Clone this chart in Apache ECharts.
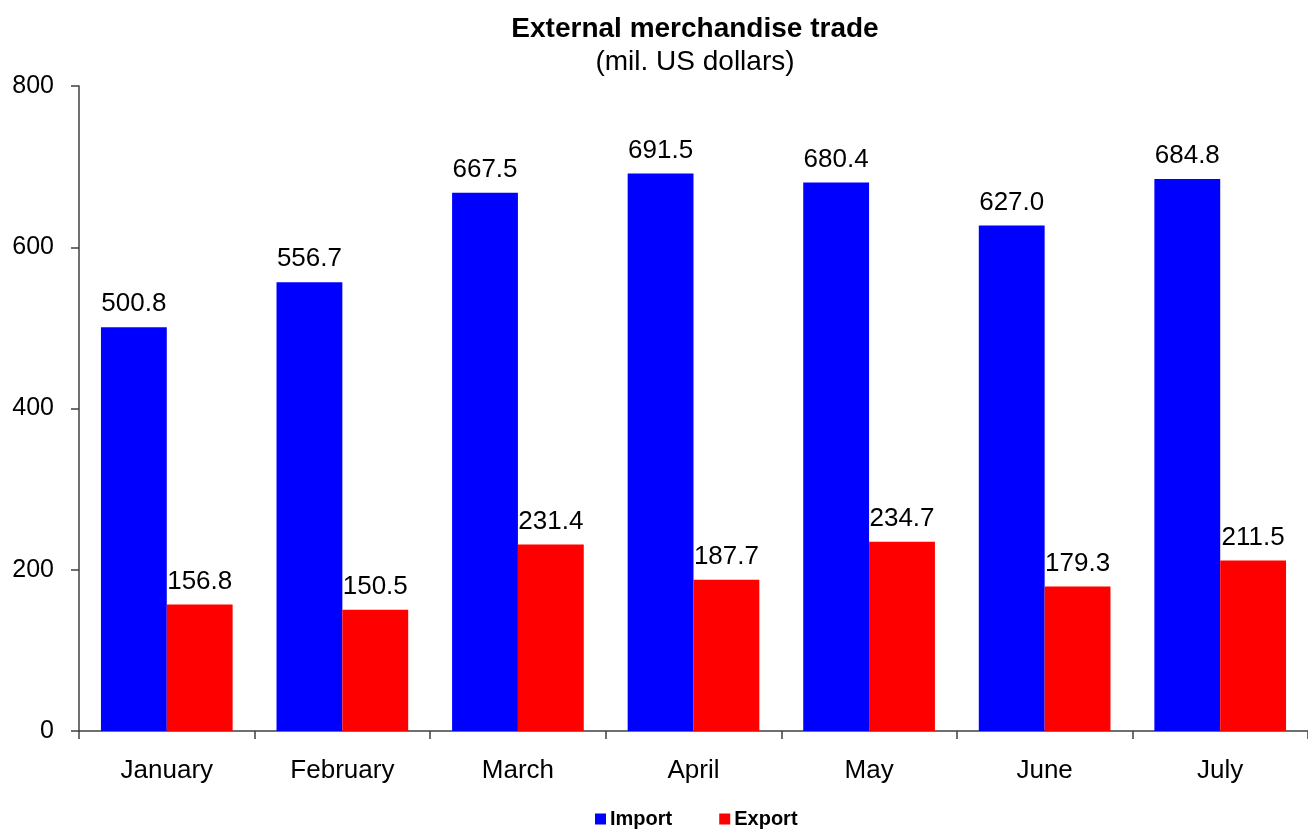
<!DOCTYPE html>
<html>
<head>
<meta charset="utf-8">
<script src="https://cdn.jsdelivr.net/npm/echarts@6/dist/echarts.min.js"></script>
<style>
  html, body { margin: 0; padding: 0; background: #fff; }
  #chart { width: 1308px; height: 829px; }
</style>
</head>
<body>
<div id="chart"></div>
<script>
// chart data
const months = ["January", "February", "March", "April", "May", "June", "July"];
const importValues = [500.8, 556.7, 667.5, 691.5, 680.4, 627.0, 684.8];
const exportValues = [156.8, 150.5, 231.4, 187.7, 234.7, 179.3, 211.5];

const font = "Liberation Sans, Arial, sans-serif";

const chart = echarts.init(document.getElementById("chart"));

const labelStyle = {
    show: true,
    position: "top",
    distance: 10,
    color: "#000",
    fontFamily: font,
    fontSize: 26,
    formatter: (p) => p.value.toFixed(1),
};

chart.setOption({
    animation: false,
    textStyle: { fontFamily: font, color: "#000" },
    title: {
        text: "External merchandise trade",
        subtext: "(mil. US dollars)",
        left: 690,
        textAlign: "center",
        top: 10,
        itemGap: 5,
        textStyle: { fontFamily: font, fontSize: 28, fontWeight: "bold", color: "#000" },
        subtextStyle: { fontFamily: font, fontSize: 28, color: "#000" },
    },
    legend: {
        data: ["Import", "Export"],
        left: 595,
        bottom: 0,
        padding: 0,
        itemWidth: 11,
        itemHeight: 11,
        itemGap: 47,
        icon: "rect",
        textStyle: { fontFamily: font, fontSize: 20, fontWeight: "bold", color: "#000", padding: [0, 0, 0, -1] },
    },
    grid: {
        left: 79,
        right: -1,
        top: 86,
        bottom: 98,
    },
    xAxis: {
        type: "category",
        data: months,
        axisLine: { lineStyle: { color: "#404040", width: 1.5 } },
        axisTick: { show: true, length: 8, lineStyle: { color: "#404040", width: 1.5 } },
        axisLabel: { fontSize: 26, color: "#000", margin: 27 },
    },
    yAxis: {
        type: "value",
        min: 0,
        max: 800,
        interval: 200,
        splitLine: { show: false },
        axisLine: { show: true, lineStyle: { color: "#404040", width: 1.5 } },
        axisTick: { show: true, length: 8, lineStyle: { color: "#404040", width: 1.5 } },
        axisLabel: { fontSize: 25, color: "#000", margin: 25 },
    },
    series: [
        {
            name: "Import",
            type: "bar",
            data: importValues,
            itemStyle: { color: "#0000ff" },
            barGap: "0%",
            barCategoryGap: "25%",
            label: labelStyle,
        },
        {
            name: "Export",
            type: "bar",
            data: exportValues,
            itemStyle: { color: "#ff0000" },
            barGap: "0%",
            barCategoryGap: "25%",
            label: labelStyle,
        },
    ],
});
</script>
</body>
</html>
